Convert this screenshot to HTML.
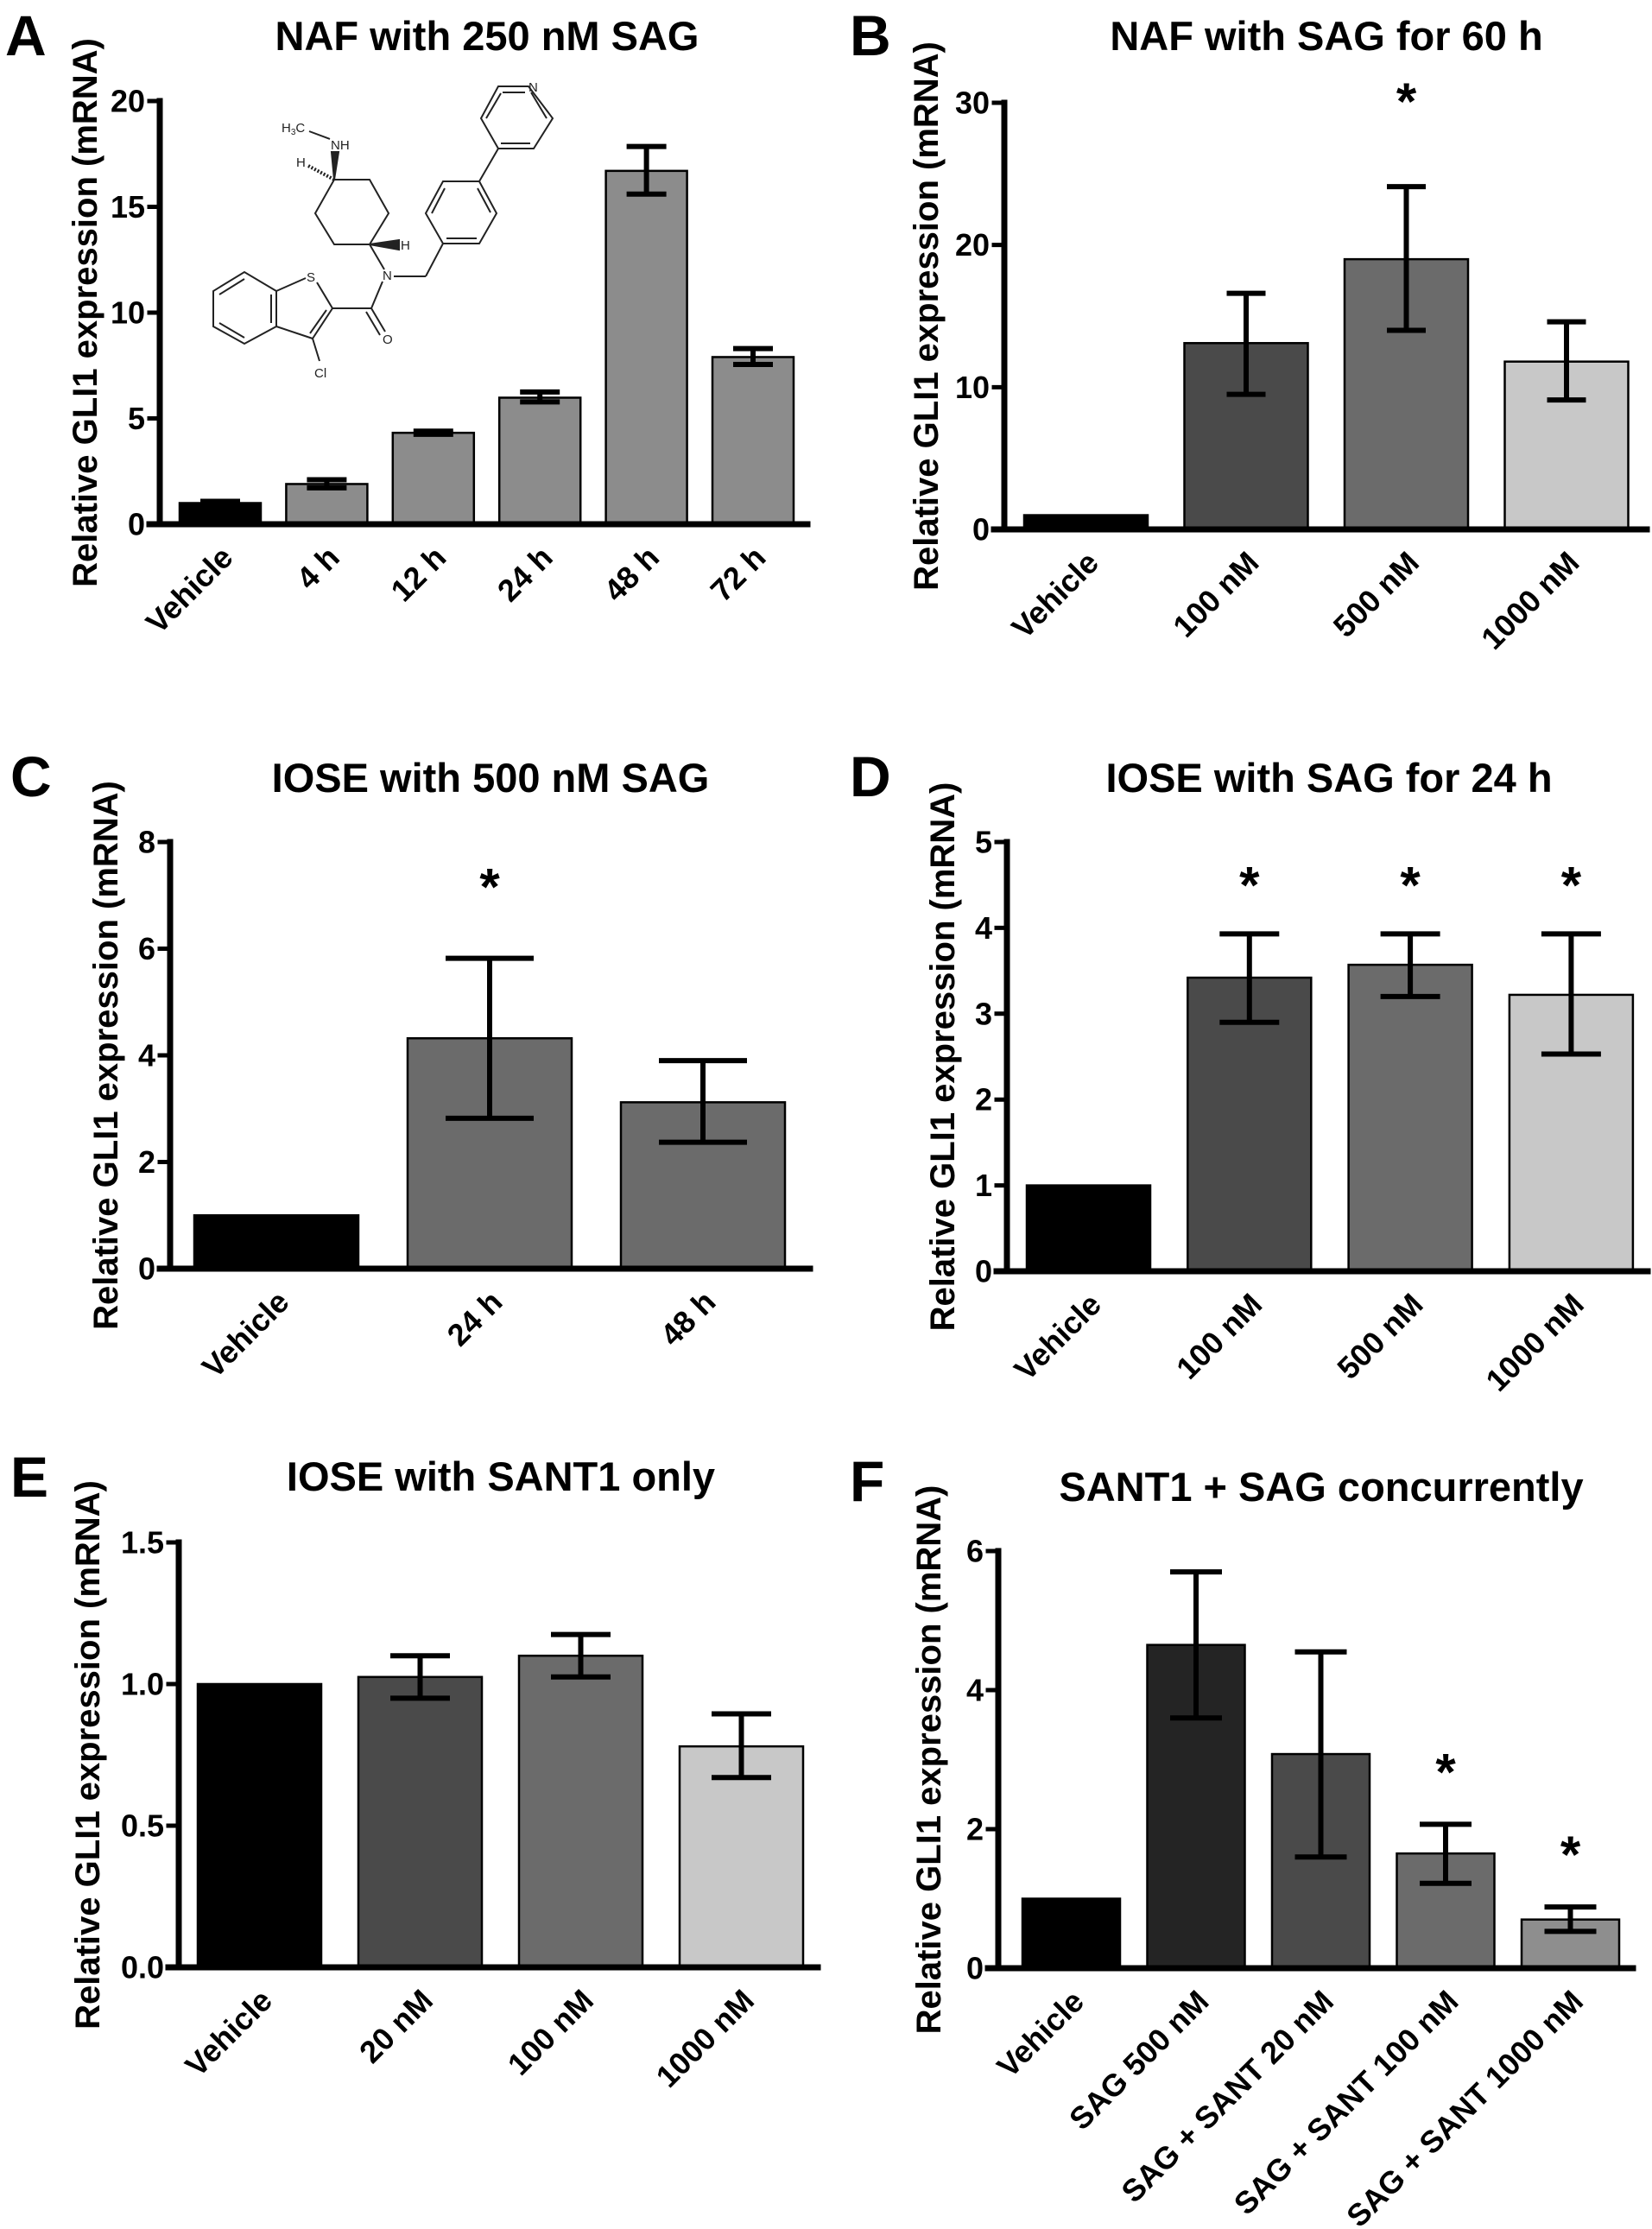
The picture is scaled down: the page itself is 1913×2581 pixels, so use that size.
<!DOCTYPE html>
<html><head><meta charset="utf-8"><style>
html,body{margin:0;padding:0;background:#fff}
svg{display:block}
text{font-family:"Liberation Sans",Arial,sans-serif}
</style></head><body>
<svg id="fig" width="1913" height="2581" viewBox="0 0 1913 2581" xmlns="http://www.w3.org/2000/svg">
<g id="molecule" stroke="#222" stroke-width="2" fill="none">
<polygon points="577,100 612,100 640,137 618,172 577,172 557,137"/>
<line x1="582" y1="107" x2="608" y2="107"/><line x1="563" y1="137" x2="580" y2="108"/><line x1="580" y1="166" x2="614" y2="166"/><line x1="633" y1="137" x2="615" y2="107"/>
<line x1="577" y1="172" x2="555" y2="210"/>
<polygon points="555,210 575,247 555,282 513,282 493,247 513,210"/>
<line x1="553" y1="218" x2="568" y2="246"/><line x1="517" y1="276" x2="552" y2="276"/><line x1="500" y1="247" x2="515" y2="218"/>
<polygon points="387,208 428,208 450,247 428,283 387,283 365,247"/>
<line x1="428" y1="283" x2="445" y2="312"/>
<line x1="456" y1="320" x2="493" y2="320"/><line x1="493" y1="320" x2="513" y2="282"/>
<line x1="443" y1="326" x2="430" y2="357"/>
<line x1="430" y1="357" x2="385" y2="357"/>
<line x1="430" y1="357" x2="446" y2="384"/><line x1="424" y1="361" x2="440" y2="388"/>
<line x1="385" y1="357" x2="367" y2="327"/><line x1="354" y1="322" x2="320" y2="337"/>
<line x1="385" y1="357" x2="362" y2="392"/><line x1="378" y1="359" x2="359" y2="386"/>
<line x1="362" y1="392" x2="320" y2="378"/><line x1="362" y1="392" x2="370" y2="418"/>
<polygon points="320,337 283,315 247,337 247,378 283,398 320,378"/>
<line x1="314" y1="341" x2="314" y2="374"/><line x1="254" y1="341" x2="283" y2="323"/><line x1="254" y1="374" x2="283" y2="391"/>
<line x1="358" y1="152" x2="382" y2="161"/>
<polygon points="387,208 384,176 392,176" fill="#222"/>
<line x1="357" y1="192" x2="387" y2="208" stroke-dasharray="2,2" stroke-width="4"/>
<polygon points="428,283 462,278 462,289" fill="#222"/>
</g>
<g id="molText" font-size="15" fill="#222">
<text x="612" y="106">N</text><text x="383" y="173">NH</text><text x="326" y="153">H<tspan font-size="10" dy="3">3</tspan><tspan dy="-3">C</tspan></text>
<text x="343" y="193">H</text><text x="464" y="289">H</text><text x="443" y="324">N</text><text x="355" y="326">S</text>
<text x="443" y="398">O</text><text x="364" y="437">Cl</text>
</g>
<g id="charts"></g>
</svg>
<script>
// Panel A
const catsA = ["Vehicle","4 h","12 h","24 h","48 h","72 h"];
const valsA = [1.0, 1.9, 4.32, 5.98, 16.7, 7.9];
const lowA = [0.95, 1.72, 4.25, 5.78, 15.6, 7.55];
const highA = [1.08, 2.1, 4.4, 6.25, 17.85, 8.3];
const ticksA = [0, 5, 10, 15, 20];
const tickLabelsA = ["0","5","10","15","20"];
const colorsA = ["#000000","#8c8c8c","#8c8c8c","#8c8c8c","#8c8c8c","#8c8c8c"];
const starsA = [false,false,false,false,false,false];
// Panel B
const catsB = ["Vehicle","100 nM","500 nM","1000 nM"];
const valsB = [1.0, 13.1, 19.0, 11.8];
const lowB = [1.0, 9.5, 14.0, 9.1];
const highB = [1.0, 16.6, 24.1, 14.6];
const ticksB = [0, 10, 20, 30];
const tickLabelsB = ["0","10","20","30"];
const colorsB = ["#000000","#4a4a4a","#6b6b6b","#c8c8c8"];
const starsB = [false,false,true,false];
// Panel C
const catsC = ["Vehicle","24 h","48 h"];
const valsC = [1.0, 4.32, 3.12];
const lowC = [1.0, 2.82, 2.37];
const highC = [1.0, 5.82, 3.9];
const ticksC = [0, 2, 4, 6, 8];
const tickLabelsC = ["0","2","4","6","8"];
const colorsC = ["#000000","#6b6b6b","#6b6b6b"];
const starsC = [false,true,false];
// Panel D
const catsD = ["Vehicle","100 nM","500 nM","1000 nM"];
const valsD = [1.0, 3.42, 3.57, 3.22];
const lowD = [1.0, 2.9, 3.2, 2.53];
const highD = [1.0, 3.93, 3.93, 3.93];
const ticksD = [0, 1, 2, 3, 4, 5];
const tickLabelsD = ["0","1","2","3","4","5"];
const colorsD = ["#000000","#4a4a4a","#6b6b6b","#c8c8c8"];
const starsD = [false,true,true,true];
// Panel E
const catsE = ["Vehicle","20 nM","100 nM","1000 nM"];
const valsE = [1.0, 1.025, 1.1, 0.78];
const lowE = [1.0, 0.95, 1.025, 0.67];
const highE = [1.0, 1.1, 1.175, 0.895];
const ticksE = [0, 0.5, 1.0, 1.5];
const tickLabelsE = ["0.0","0.5","1.0","1.5"];
const colorsE = ["#000000","#4a4a4a","#6b6b6b","#c8c8c8"];
const starsE = [false,false,false,false];
// Panel F
const catsF = ["Vehicle","SAG 500 nM","SAG + SANT 20 nM","SAG + SANT 100 nM","SAG + SANT 1000 nM"];
const valsF = [1.0, 4.65, 3.08, 1.65, 0.7];
const lowF = [1.0, 3.6, 1.6, 1.22, 0.53];
const highF = [1.0, 5.7, 4.55, 2.07, 0.88];
const ticksF = [0, 2, 4, 6];
const tickLabelsF = ["0","2","4","6"];
const colorsF = ["#000000","#242424","#4a4a4a","#6b6b6b","#8e8e8e"];
const starsF = [false,false,false,true,true];

const NS = "http://www.w3.org/2000/svg";
const root = document.getElementById('charts');
function mk(tag, attrs, parent, txt){
  const e = document.createElementNS(NS, tag);
  for (const k in attrs) e.setAttribute(k, attrs[k]);
  if (txt !== undefined) e.textContent = txt;
  parent.appendChild(e);
  return e;
}
function panel(g, d){
  const grp = document.createElementNS(NS,'g');
  
  
  root.appendChild(grp);
  const yMax = d.ticks[d.ticks.length-1];
  const yS = v => g.y0 - (v / yMax) * (g.y0 - g.yTop);
  const xL = i => g.bx0 + i * g.pitch;
  const letter = mk('text', {x:g.lx, y:g.ly, 'font-size':66, 'font-weight':'bold'}, grp, g.id);
  
  
  const title = mk('text', {x:g.tx, y:g.ty, 'font-size':47, 'font-weight':'bold', 'text-anchor':'middle'}, grp, g.title);
  
  
  const yc = (g.y0 + g.yTop) / 2;
  const yl = mk('text', {x:g.ylx, y:yc, 'font-size':40, 'font-weight':'bold', 'text-anchor':'middle', 'dominant-baseline':'central', transform:'rotate(-90 '+g.ylx+' '+yc+')'}, grp, 'Relative GLI1 expression (mRNA)');
  
  
  d.vals.forEach((v,i)=>{
    const x = xL(i);
    const r = mk('rect', {x:x, y:yS(v), width:g.bw, height:g.y0 - yS(v), fill:d.colors[i], stroke:'#000', 'stroke-width':2.5}, grp);
    
    
    const cx = x + g.bw/2;
    if (d.high[i] - d.low[i] > 0.001 * yMax) {
      const eb = mk('g', {stroke:'#000', 'stroke-width':6}, grp);
      
      
      mk('line', {x1:cx, x2:cx, y1:yS(d.low[i]), y2:yS(d.high[i])}, eb);
      mk('line', {x1:cx-g.cap/2, x2:cx+g.cap/2, y1:yS(d.low[i]), y2:yS(d.low[i])}, eb);
      mk('line', {x1:cx-g.cap/2, x2:cx+g.cap/2, y1:yS(d.high[i]), y2:yS(d.high[i])}, eb);
    }
    if (d.stars[i]) {
      const s = mk('text', {x:cx, y:yS(d.high[i]) - g.starGap, 'font-size':60, 'font-weight':'bold', 'text-anchor':'middle'}, grp, '*');
      
      
    }
    const ax = cx + 8, ay = g.y0 + 32;
    const lab = mk('text', {x:ax, y:ay, 'font-size':36, 'font-weight':'bold', 'text-anchor':'end', 'dominant-baseline':'central', transform:'rotate(-45 '+ax+' '+ay+')'}, grp, d.cats[i]);
    
    
  });
  const ax = mk('g', {stroke:'#000', 'stroke-width':7, 'stroke-linecap':'square'}, grp);
  
  
  mk('line', {x1:g.ax, x2:g.ax, y1:g.yTop, y2:g.y0}, ax);
  mk('line', {x1:g.ax - 12, x2:g.axEnd, y1:g.y0, y2:g.y0}, ax);
  d.ticks.forEach((t,i)=>{
    mk('line', {x1:g.ax-12, x2:g.ax, y1:yS(t), y2:yS(t), 'stroke-width':5}, ax);
    const tl = mk('text', {x:g.ax-17, y:yS(t), 'font-size':36, 'font-weight':'bold', 'text-anchor':'end', 'dominant-baseline':'central', stroke:'none'}, grp, d.tickLabels[i]);
    
    
  });
}
panel({id:'A', title:'NAF with 250 nM SAG', lx:6, ly:64, tx:564, ty:58, ylx:99, ax:185, axEnd:935, y0:607, yTop:117, bx0:208, pitch:123.4, bw:94, cap:46, starGap:20},
  {cats:catsA, vals:valsA, low:lowA, high:highA, ticks:ticksA, tickLabels:tickLabelsA, colors:colorsA, stars:starsA});
panel({id:'B', title:'NAF with SAG for 60 h', lx:984, ly:64, tx:1536, ty:58, ylx:1073, ax:1163, axEnd:1907, y0:613, yTop:119, bx0:1186, pitch:185.5, bw:143, cap:45, starGap:78},
  {cats:catsB, vals:valsB, low:lowB, high:highB, ticks:ticksB, tickLabels:tickLabelsB, colors:colorsB, stars:starsB});
panel({id:'C', title:'IOSE with 500 nM SAG', lx:12, ly:922, tx:568, ty:917, ylx:123, ax:197, axEnd:938, y0:1469, yTop:975, bx0:225, pitch:247, bw:190, cap:102, starGap:62},
  {cats:catsC, vals:valsC, low:lowC, high:highC, ticks:ticksC, tickLabels:tickLabelsC, colors:colorsC, stars:starsC});
panel({id:'D', title:'IOSE with SAG for 24 h', lx:984, ly:922, tx:1539, ty:917, ylx:1092, ax:1166, axEnd:1908, y0:1472, yTop:975, bx0:1189, pitch:186.3, bw:143, cap:69, starGap:36},
  {cats:catsD, vals:valsD, low:lowD, high:highD, ticks:ticksD, tickLabels:tickLabelsD, colors:colorsD, stars:starsD});
panel({id:'E', title:'IOSE with SANT1 only', lx:12, ly:1733, tx:580, ty:1726, ylx:102, ax:207, axEnd:947, y0:2278, yTop:1786, bx0:229, pitch:186, bw:143, cap:69, starGap:30},
  {cats:catsE, vals:valsE, low:lowE, high:highE, ticks:ticksE, tickLabels:tickLabelsE, colors:colorsE, stars:starsE});
panel({id:'F', title:'SANT1 + SAG concurrently', lx:984, ly:1738, tx:1530, ty:1738, ylx:1076, ax:1156, axEnd:1891, y0:2279, yTop:1796, bx0:1184, pitch:144.5, bw:113, cap:60, starGap:40},
  {cats:catsF, vals:valsF, low:lowF, high:highF, ticks:ticksF, tickLabels:tickLabelsF, colors:colorsF, stars:starsF});
</script>
</body></html>
